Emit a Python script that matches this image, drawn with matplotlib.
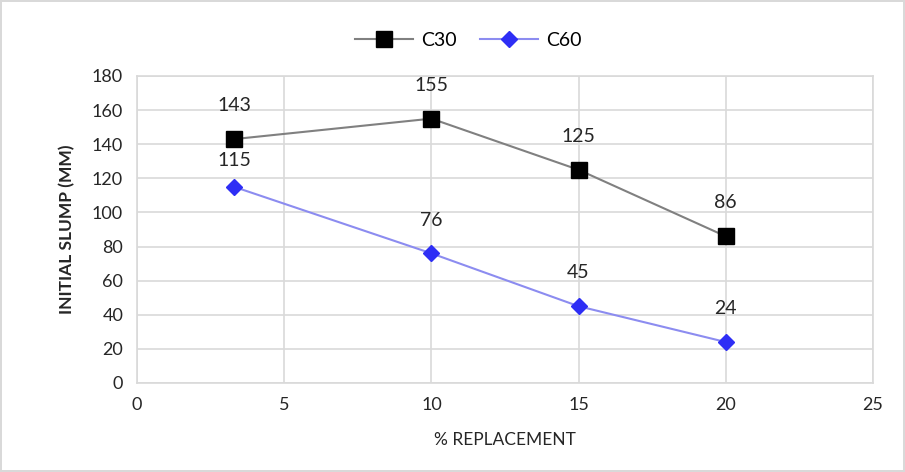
import matplotlib.pyplot as plt

# % replacement and initial slump values for each mix
replacement = [3.3, 10, 15, 20]
c30_slump = [143, 155, 125, 86]
c60_slump = [115, 76, 45, 24]
x_ticks = [0, 5, 10, 15, 20, 25]
y_ticks = [0, 20, 40, 60, 80, 100, 120, 140, 160, 180]

plt.rcParams['font.family'] = ['Lato', 'DejaVu Sans']

fig = plt.figure(figsize=(9.05, 4.72), dpi=100)
fig.patch.set_edgecolor('#d9d9d9')
fig.patch.set_linewidth(1.5)
ax = fig.add_axes([0.1514, 0.1886, 0.8132, 0.6504])

ax.plot(replacement, c30_slump, color='#808080', lw=1.5, marker='s', markersize=11,
        markerfacecolor='black', markeredgecolor='black', label='C30', zorder=3)
ax.plot(replacement, c60_slump, color='#8c8cf0', lw=1.5, marker='D', markersize=8,
        markerfacecolor='#2e2ef5', markeredgecolor='#2e2ef5', label='C60', zorder=3)

# value labels above each point
for x, y in zip(replacement, c30_slump):
    ax.annotate(str(y), (x, y), xytext=(0, 24), textcoords='offset points',
                ha='center', va='center', fontsize=14, color='#262626')
offsets = [19, 24, 24, 24]
for x, y, off in zip(replacement, c60_slump, offsets):
    ax.annotate(str(y), (x, y), xytext=(0, off), textcoords='offset points',
                ha='center', va='center', fontsize=14, color='#262626')

ax.set_xlim(0, 25)
ax.set_ylim(0, 180)
ax.set_xticks(x_ticks)
ax.set_yticks(y_ticks)
ax.grid(True, color='#d9d9d9', lw=1.2)
ax.set_axisbelow(True)
for side in ['top', 'right', 'left', 'bottom']:
    ax.spines[side].set_color('#d9d9d9')
    ax.spines[side].set_linewidth(1.2)
ax.tick_params(length=0, labelsize=13, colors='#404040', pad=10)
for lbl in ax.get_xticklabels() + ax.get_yticklabels():
    lbl.set_color('#262626')

ax.set_xlabel('% REPLACEMENT', fontsize=12.5, color='#262626', labelpad=14)
ax.set_ylabel('INITIAL SLUMP (MM)', fontsize=12.5, color='#262626', labelpad=12,
              fontweight='bold')

ax.legend(loc='lower center', bbox_to_anchor=(0.45, 1.03), ncol=2, frameon=False,
          fontsize=14, handlelength=3, columnspacing=1.2, handletextpad=0.4)

fig.savefig('out.png', dpi=100)
